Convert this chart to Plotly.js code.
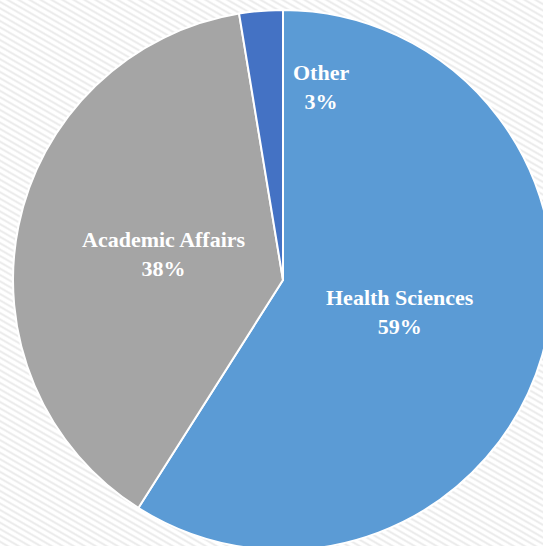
<!DOCTYPE html>
<html>
<head>
<meta charset="utf-8">
<script src="https://cdn.plot.ly/plotly-3.0.1.min.js"></script>
<style>
  html, body { margin: 0; padding: 0; width: 543px; height: 546px; overflow: hidden; }
  body {
    background-color: #f3f3f3;
    background-image: repeating-linear-gradient(30deg, #ffffff 0px, #ffffff 2px, #ebebeb 3.5px, #ebebeb 4px, #ffffff 5.5px);
  }
  #chart { position: absolute; left: 0; top: 0; }
</style>
</head>
<body>
<div id="chart"></div>
<script>
const categories = ["Health Sciences", "Academic Affairs", "Other"];
const values = [59.0, 38.4, 2.6];
const colors = ["#5B9BD5", "#A5A5A5", "#4472C4"];

const W = 553, H = 550, ML = 13, MT = 10;
const side = Math.min(W - ML, H - MT);
const R = side / 2;
const total = values.reduce((a, b) => a + b, 0);

// label positions along each slice bisector (clockwise from 12 o'clock)
const annotations = [];
let cum = 0;
values.forEach((v, i) => {
  const frac = v / total;
  const mid = (cum + frac / 2) * 2 * Math.PI;
  cum += frac;
  let px, py;
  if (i < 2) {
    px = 0.5 + 0.45 * R * Math.sin(mid) / side;
    py = 0.5 + 0.45 * R * Math.cos(mid) / side;
  } else {
    px = (321 - ML) / side;
    py = 1 - (87 - MT) / side;
  }
  annotations.push({
    xref: "paper", yref: "paper", x: px, y: py,
    xanchor: "center", yanchor: "middle", showarrow: false,
    yshift: i < 2 ? 2 : 0,
    text: categories[i] + "<br>" + Math.round(frac * 100) + "%",
    font: { family: "Liberation Serif, Times New Roman, serif", size: 22, color: "#ffffff", weight: "bold" }
  });
});

const data = [{
  type: "pie",
  labels: categories,
  values: values,
  sort: false,
  direction: "clockwise",
  rotation: 0,
  marker: { colors: colors, line: { color: "#ffffff", width: 2 } },
  textinfo: "none",
  hoverinfo: "label+percent",
  showlegend: false
}];

const layout = {
  width: W, height: H,
  margin: { l: ML, r: 0, t: MT, b: 0, pad: 0 },
  paper_bgcolor: "rgba(0,0,0,0)",
  plot_bgcolor: "rgba(0,0,0,0)",
  showlegend: false,
  annotations: annotations
};

Plotly.newPlot("chart", data, layout, { displayModeBar: false, staticPlot: true });
</script>
</body>
</html>
